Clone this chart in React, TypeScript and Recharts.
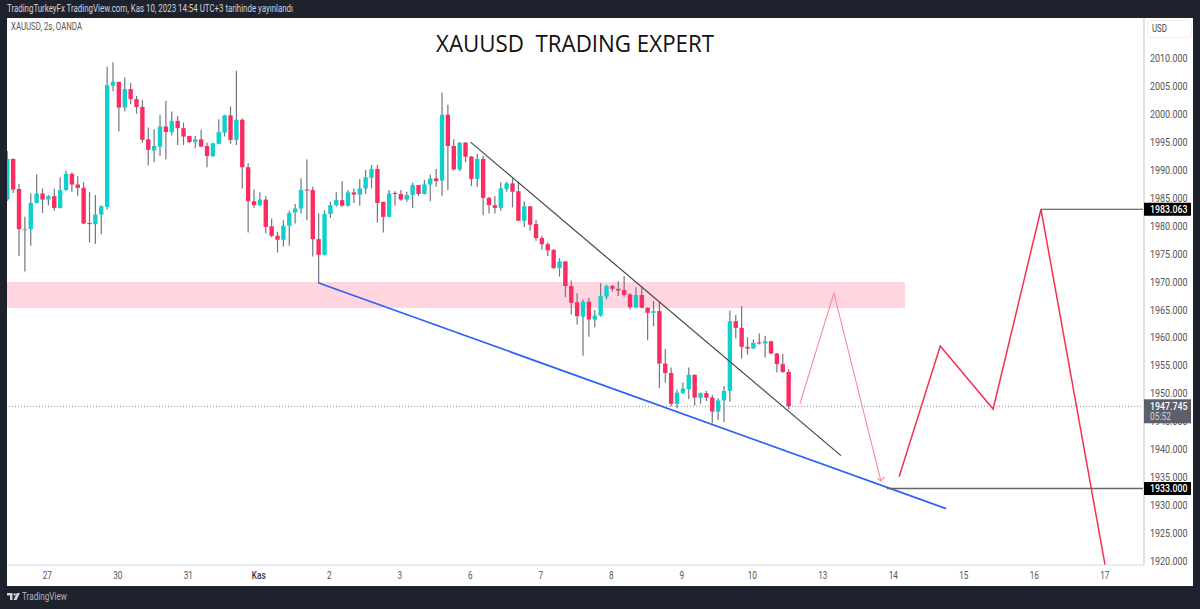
import { ComposedChart, Bar, Line, XAxis, YAxis, ReferenceArea, ReferenceLine } from 'recharts'

const opens = [
  1984.8, 1992.1, 1986.7, 1979.4, 1979.5, 1984.2, 1985.9, 1984.8, 1985.4, 1983.3, 1986.5, 1989.4,
  1987.5, 1986.9, 1980.6, 1980.4, 1982.1, 1983.5, 2005.2, 2005.9, 2001.3, 2004.6, 2002.8, 2001.4,
  1995.6, 1993.6, 1994.3, 1997.9, 1996.9, 1998.9, 1997.6, 1996.2, 1995.1, 1995.6, 1994.4, 1992.6,
  1994.8, 1996.8, 1999.9, 1995.5, 1999.1, 1990.6, 1984.5, 1983.8, 1984.8, 1980.0, 1978.3, 1977.6,
  1980.1, 1982.5, 1983.2, 1986.6, 1986.5, 1977.7, 1974.9, 1982.2, 1983.8, 1984.7, 1983.7, 1986.1,
  1985.7, 1986.8, 1988.7, 1990.3, 1984.4, 1981.7, 1986.0, 1985.8, 1984.8, 1985.6, 1987.4, 1985.8,
  1987.5, 1988.6, 1988.2, 2000.0, 1994.4, 1990.2, 1995.0, 1992.5, 1988.5, 1992.1, 1985.1, 1983.8,
  1983.3, 1986.7, 1987.7, 1986.3, 1981.0, 1983.6, 1980.4, 1977.9, 1976.8, 1975.8, 1972.5, 1973.7,
  1969.3, 1966.4, 1963.8, 1966.5, 1963.3, 1964.0, 1967.4, 1969.3, 1968.8, 1968.6, 1967.8, 1965.5,
  1967.7, 1965.4, 1964.5, 1964.8, 1955.4, 1953.7, 1948.2, 1950.1, 1950.8, 1953.4, 1949.3, 1950.1,
  1949.3, 1946.8, 1948.8, 1950.5, 1963.0, 1961.8, 1958.4, 1958.1, 1959.2, 1959.0, 1959.4, 1957.2,
  1955.3, 1953.9,
]
const highs = [
  1993.5, 1992.1, 1987.6, 1981.7, 1985.9, 1989.3, 1986.8, 1985.6, 1986.8, 1988.8, 1990.0, 1989.7,
  1989.0, 1987.9, 1986.2, 1985.6, 1983.8, 2008.6, 2009.4, 2005.9, 2006.7, 2005.7, 2003.4, 2002.6,
  1997.7, 1997.4, 2000.0, 2002.5, 2000.6, 1999.8, 1998.6, 1996.2, 1996.2, 1997.3, 1995.0, 1995.0,
  1999.2, 2000.0, 2001.5, 2007.9, 1999.4, 1991.3, 1986.6, 1986.1, 1985.4, 1981.4, 1979.0, 1981.1,
  1982.8, 1984.0, 1988.6, 1992.0, 1987.1, 1982.3, 1982.9, 1984.4, 1986.1, 1988.1, 1986.5, 1986.8,
  1988.5, 1990.1, 1991.0, 1991.0, 1984.4, 1986.5, 1986.3, 1986.5, 1986.2, 1987.8, 1987.4, 1988.3,
  1989.3, 1990.3, 2004.0, 2001.8, 1995.6, 1995.1, 1995.1, 1992.6, 1993.0, 1992.7, 1985.3, 1985.4,
  1987.9, 1988.0, 1988.6, 1988.0, 1984.5, 1983.6, 1981.1, 1978.3, 1977.1, 1975.9, 1974.3, 1973.8,
  1970.3, 1968.0, 1966.9, 1967.2, 1965.0, 1969.8, 1969.5, 1969.5, 1970.1, 1971.1, 1968.0, 1969.1,
  1969.2, 1965.5, 1966.6, 1966.5, 1958.0, 1954.7, 1950.7, 1952.0, 1954.7, 1953.4, 1950.2, 1950.5,
  1949.8, 1949.2, 1951.4, 1964.9, 1964.1, 1965.7, 1960.1, 1959.7, 1960.8, 1960.4, 1959.5, 1957.3,
  1957.1, 1954.4,
]
const lows = [
  1984.6, 1986.0, 1974.7, 1971.9, 1976.5, 1984.1, 1982.4, 1983.8, 1982.8, 1983.2, 1986.4, 1986.2,
  1985.5, 1980.4, 1977.1, 1976.9, 1978.6, 1983.0, 2004.2, 1997.0, 2000.6, 2001.9, 2000.2, 1995.0,
  1990.9, 1991.5, 1992.6, 1992.0, 1996.3, 1994.6, 1994.6, 1994.9, 1994.0, 1994.2, 1990.6, 1992.4,
  1994.7, 1996.1, 1994.8, 1994.6, 1986.8, 1978.9, 1983.3, 1983.6, 1978.7, 1978.0, 1975.3, 1976.4,
  1976.5, 1980.5, 1982.3, 1981.1, 1974.6, 1969.9, 1974.8, 1981.5, 1983.5, 1983.5, 1983.5, 1984.2,
  1983.7, 1985.8, 1986.8, 1980.7, 1978.9, 1981.6, 1983.7, 1984.6, 1984.4, 1983.3, 1985.4, 1985.7,
  1984.5, 1987.1, 1985.4, 1986.5, 1990.0, 1989.9, 1991.5, 1987.2, 1987.1, 1982.0, 1982.3, 1982.3,
  1982.8, 1986.2, 1983.4, 1981.0, 1979.9, 1979.2, 1977.4, 1975.8, 1974.7, 1972.4, 1971.0, 1967.3,
  1964.2, 1962.4, 1956.8, 1960.2, 1961.9, 1963.8, 1966.9, 1968.3, 1967.5, 1967.4, 1965.1, 1965.3,
  1965.3, 1959.6, 1962.1, 1951.0, 1952.0, 1947.7, 1947.4, 1949.9, 1949.0, 1947.9, 1948.2, 1948.7,
  1944.7, 1945.3, 1944.9, 1948.6, 1959.9, 1956.3, 1957.0, 1958.0, 1958.8, 1956.5, 1957.1, 1953.8,
  1953.7, 1947.2,
]
const closes = [
  1992.1, 1986.6, 1979.5, 1979.5, 1984.2, 1985.9, 1984.8, 1985.4, 1983.3, 1986.5, 1989.4, 1987.5,
  1986.9, 1980.5, 1980.4, 1982.1, 1983.6, 2005.3, 2005.9, 2001.3, 2004.6, 2002.8, 2001.4, 1995.5,
  1993.7, 1994.4, 1997.9, 1996.9, 1998.9, 1997.6, 1996.1, 1995.1, 1995.6, 1994.3, 1992.6, 1994.9,
  1996.9, 1999.9, 1995.5, 1999.1, 1990.6, 1984.5, 1983.8, 1984.8, 1979.9, 1978.3, 1977.6, 1980.1,
  1982.4, 1983.2, 1986.5, 1986.5, 1977.7, 1974.9, 1982.2, 1983.8, 1984.7, 1983.7, 1986.1, 1985.7,
  1986.8, 1988.8, 1990.3, 1984.2, 1981.7, 1985.9, 1985.8, 1984.8, 1985.6, 1987.4, 1985.8, 1987.5,
  1988.6, 1988.1, 2000.0, 1994.4, 1990.2, 1995.0, 1992.5, 1988.5, 1992.1, 1985.1, 1983.8, 1983.3,
  1986.8, 1987.7, 1986.2, 1981.0, 1983.6, 1980.3, 1977.9, 1976.8, 1975.7, 1972.5, 1973.7, 1969.3,
  1966.3, 1963.9, 1966.5, 1963.3, 1964.0, 1967.5, 1969.3, 1968.8, 1968.5, 1967.7, 1965.5, 1967.7,
  1965.4, 1964.5, 1964.8, 1955.4, 1953.7, 1948.2, 1950.2, 1950.9, 1953.4, 1949.3, 1950.1, 1949.3,
  1946.8, 1948.8, 1950.5, 1963.0, 1961.8, 1958.4, 1958.1, 1959.1, 1959.0, 1959.4, 1957.2, 1955.3,
  1953.9, 1947.745,
]

// drawings on the chart, [bar index, price]
const blueTrend = [[52.9, 1969.9], [159.8, 1929.4]]
const blackTrend = [[78.85, 1995.1], [141.9, 1938.9]]
const paleForecast = [[134.9, 1948.15], [140.7, 1968.05], [148.7, 1934.35], [148.1, 1934.8], [148.7, 1934.35], [149.3, 1935.1]]
const redForecast = [[151.8, 1935.1], [158.8, 1958.55], [167.8, 1947.25], [175.95, 1983.063], [186.85, 1919.3]]
const topLevel = [[175.95, 1983.063], [193.48, 1983.063]]
const bottomLevel = [[149.7, 1933], [193.48, 1933]]

const dayLabels = ['27', '30', '31', 'Kas', '2', '3', '6', '7', '8', '9', '10', '13', '14', '15', '16', '17']
const dayTicks = [6.8, 18.8, 30.8, 42.8, 54.8, 66.8, 78.8, 90.8, 102.8, 114.8, 126.8, 138.8, 150.8, 162.8, 174.8, 186.8]
const priceTicks = [
  1920, 1925, 1930, 1935, 1940, 1945, 1950, 1955, 1960, 1965, 1970, 1975, 1980, 1985, 1990, 1995, 2000, 2005, 2010,
]
const lastPrice = 1947.745
const levelTags = [1983.063, 1933]

const UP = '#0fd0cc'
const DOWN = '#fb2c62'
const FONT = 'Roboto, sans-serif'

const rows = opens.map((open, i) => ({
  i,
  open,
  close: closes[i],
  high: highs[i],
  low: lows[i],
  range: [lows[i], highs[i]],
}))

const toPoints = (list: number[][]) => list.map(([i, price]) => ({ i, price }))

function Candle(props: any) {
  const { x, y, width, height, payload } = props
  const { open, close, high, low } = payload
  const perUnit = height / (high - low)
  const cx = x + width / 2
  const top = y + (high - Math.max(open, close)) * perUnit
  const bodyHeight = Math.max(Math.abs(open - close) * perUnit, 1)
  const color = close >= open ? UP : DOWN
  return (
    <g>
      <line x1={cx} x2={cx} y1={y} y2={y + height} stroke="#73767e" strokeWidth={1.2} />
      <rect x={cx - 2.2} y={top} width={4.4} height={bodyHeight} fill={color} />
    </g>
  )
}

// the reference's labels are narrow, so squeeze them to the measured width
function Label({ x, y, text, width, size = 10, weight = 400, color = '#555', anchor = 'start' }: any) {
  return (
    <text
      x={x}
      y={y}
      textAnchor={anchor}
      fontFamily={FONT}
      fontSize={size}
      fontWeight={weight}
      fill={color}
      textLength={width}
      lengthAdjust="spacingAndGlyphs"
    >
      {text}
    </text>
  )
}

function PriceTick(props: any) {
  const { x, y, payload } = props
  const value = payload.value
  const label = value.toFixed(3)
  if (value === lastPrice) {
    return (
      <g>
        <rect x={x - 6} y={y - 7} width={47} height={24} fill="#5d606b" />
        <Label x={x} y={y + 3.5} text={label} width={37.5} weight={500} color="#fff" />
        <Label x={x} y={y + 14} text="05:52" width={21} color="#d1d4dc" />
      </g>
    )
  }
  if (levelTags.includes(value)) {
    return (
      <g>
        <rect x={x - 6} y={y - 6.5} width={47} height={13} fill="#000" />
        <Label x={x} y={y + 3.5} text={label} width={37.5} weight={500} color="#fff" />
      </g>
    )
  }
  return <Label x={x} y={y + 3.5} text={label} width={37.5} />
}

function DayTick(props: any) {
  const { x, y, payload } = props
  const label = dayLabels[dayTicks.indexOf(payload.value)]
  const month = label === 'Kas'
  return (
    <Label
      x={x}
      y={y + 6}
      text={label}
      width={label.length * 4.6}
      anchor="middle"
      weight={month ? 500 : 400}
      color={month ? '#333' : '#555'}
    />
  )
}

const drawings = [
  { name: 'blue', points: blueTrend, color: '#2f62f5', width: 1.7 },
  { name: 'black', points: blackTrend, color: '#444444', width: 1.2 },
  { name: 'pale', points: paleForecast, color: '#f98ea0', width: 1.1 },
  { name: 'red', points: redForecast, color: '#f5314f', width: 1.5 },
  { name: 'top', points: topLevel, color: '#444444', width: 1 },
  { name: 'bottom', points: bottomLevel, color: '#666666', width: 1.4 },
]

export default function App() {
  return (
    <div style={{ position: 'fixed', left: 0, top: 0, width: 1200, height: 609, background: '#1e222d', overflow: 'hidden' }}>
      <div style={{ position: 'absolute', left: 7, top: 18, width: 1186, height: 568, background: '#fff' }} />
      <div style={{ position: 'absolute', left: 0, top: 0 }}>
        <ComposedChart width={1200} height={609} data={rows} margin={{ left: 7, right: 7, top: 18, bottom: 23 }} barSize={5}>
          <XAxis
            dataKey="i"
            type="number"
            domain={[-0.05, 193.48]}
            allowDataOverflow
            ticks={dayTicks}
            interval={0}
            height={21}
            tick={DayTick}
            tickLine={false}
            axisLine={{ stroke: '#d6d8de' }}
          />
          <YAxis
            orientation="right"
            type="number"
            domain={[1919.29, 2017.35]}
            allowDataOverflow
            ticks={[...priceTicks, lastPrice, ...levelTags]}
            interval={0}
            width={49}
            tick={PriceTick}
            tickLine={false}
            tickMargin={0}
            axisLine={{ stroke: '#dfe1e6', strokeWidth: 2 }}
          />
          <ReferenceArea x1={-0.05} x2={152.8} y1={1965.36} y2={1970.02} fill="#ffd6e0" fillOpacity={1} stroke="none" />
          <ReferenceLine y={lastPrice} stroke="#8a8d96" strokeDasharray="1 2" />
          <Bar dataKey="range" shape={Candle} isAnimationActive={false} />
          {drawings.map((d) => (
            <Line
              key={d.name}
              data={toPoints(d.points)}
              dataKey="price"
              type="linear"
              stroke={d.color}
              strokeWidth={d.width}
              dot={false}
              activeDot={false}
              isAnimationActive={false}
            />
          ))}
        </ComposedChart>
      </div>
      <svg style={{ position: 'absolute', left: 0, top: 0 }} width={1200} height={609}>
        <Label x={7} y={12} text="TradingTurkeyFx TradingView.com, Kas 10, 2023 14:54 UTC+3 tarihinde yayınlandı" width={286} color="#d1d4dc" />
        <Label x={11} y={30} text="XAUUSD, 2s, OANDA" width={71} />
        <Label x={1152} y={32} text="USD" width={15} color="#444" />
        <Label x={22} y={600} text="TradingView" width={45} color="#b2b5be" />
        <text x={436} y={52} fontFamily='"Open Sans", sans-serif' fontSize={23} fill="#111" textLength={278} lengthAdjust="spacingAndGlyphs" style={{ whiteSpace: 'pre' }}>
          XAUUSD  TRADING EXPERT
        </text>
        <rect x={1147.5} y={20.5} width={44} height={17} rx={3} fill="none" stroke="#eceef2" />
        <path d="M7 593H12.5V600H10V595.6H7ZM14.6 593.2A1.2 1.2 0 1 1 14.6 595.6A1.2 1.2 0 1 1 14.6 593.2ZM16.8 593H20L16.6 600H13.6Z" fill="#d1d4dc" />
      </svg>
    </div>
  )
}
